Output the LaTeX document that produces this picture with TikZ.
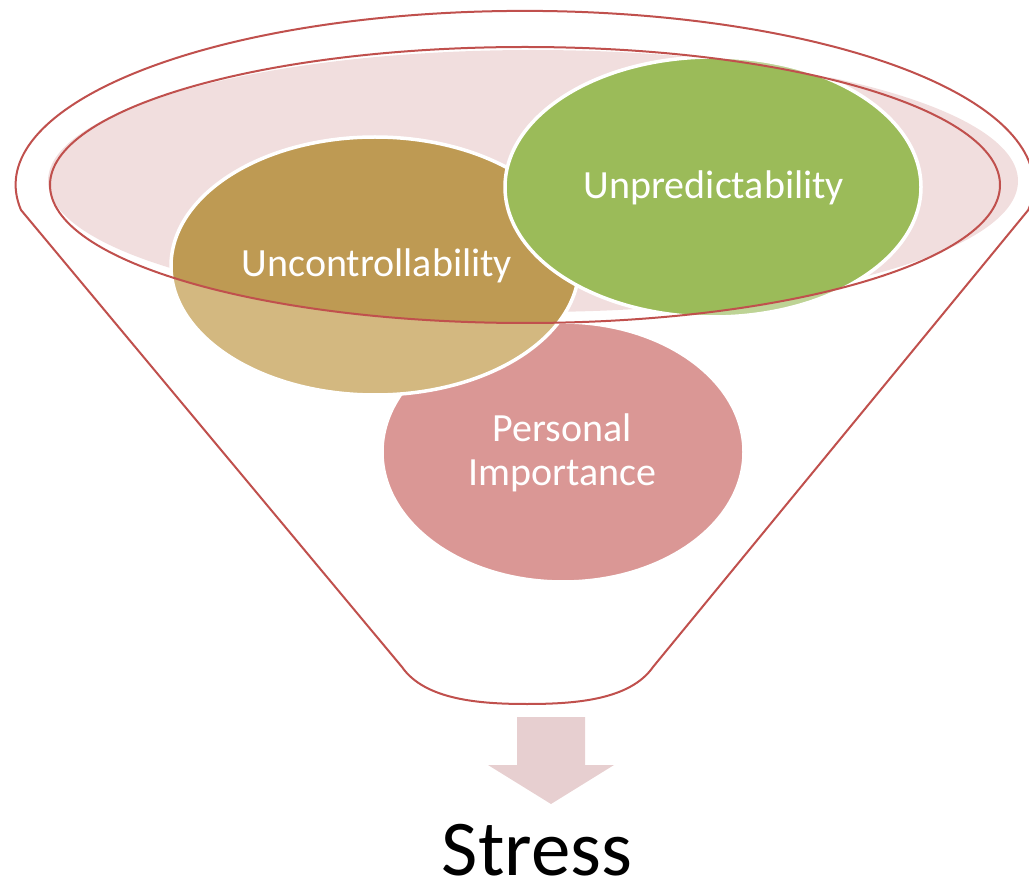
\documentclass[tikz,border=0pt]{standalone}
\usepackage{fontspec}
\setmainfont{Carlito}
\definecolor{funnelred}{HTML}{C0504D}
\definecolor{rimfill}{HTML}{F1DEDE}
\definecolor{persfill}{HTML}{DA9795}
\definecolor{brownlight}{HTML}{D3B880}
\definecolor{brownsolid}{HTML}{BE9A53}
\definecolor{greenlight}{HTML}{BDD395}
\definecolor{greensolid}{HTML}{9BBB59}
\definecolor{arrowfill}{HTML}{E7CFD0}
\begin{document}
\begin{tikzpicture}[x=1pt,y=1pt,
  label text/.style={text=white,font=\fontsize{40}{44}\selectfont,align=center,inner sep=0pt},
  rim/.style={draw=funnelred,line width=2pt},
  bubble edge/.style={draw=white,line width=3.5pt}]
\useasboundingbox (0,0) rectangle (1029,-885);

% tinted surface inside the funnel mouth
\fill[rimfill] (533,-181) ellipse [x radius=485pt, y radius=131pt];

% funnel body
\draw[rim] (21,-210) arc [start angle=188.3, end angle=-8.3, x radius=509pt, y radius=174pt]
  -- (653,-667) .. controls (630,-700) and (575,-704) .. (527,-704)
  .. controls (480,-704) and (425,-700) .. (402,-667) -- cycle;

% Personal Importance bubble (below the mouth)
\fill[persfill] (563,-452) ellipse [x radius=181pt, y radius=130pt];
\draw[bubble edge] (563,-452) ellipse [x radius=181pt, y radius=130pt];

% Uncontrollability bubble: pale below the mouth, solid inside it
\fill[brownlight] (375,-266) ellipse [x radius=204pt, y radius=129pt];
\begin{scope}
  \clip (525,-185) ellipse [x radius=475pt, y radius=138pt];
  \fill[brownsolid] (375,-266) ellipse [x radius=204pt, y radius=129pt];
\end{scope}
\draw[bubble edge] (375,-266) ellipse [x radius=204pt, y radius=129pt];

% Unpredictability bubble
\fill[greenlight] (713,-187) ellipse [x radius=208pt, y radius=130pt];
\begin{scope}
  \clip (525,-185) ellipse [x radius=475pt, y radius=138pt];
  \fill[greensolid] (713,-187) ellipse [x radius=208pt, y radius=130pt];
\end{scope}
\draw[bubble edge] (713,-187) ellipse [x radius=208pt, y radius=130pt];

% rim of the funnel mouth
\draw[rim] (525,-185) ellipse [x radius=475pt, y radius=138pt];

% labels
\node[label text] (unctrl) at (377,-266) {Uncontrollability};
\node[label text] (unpred) at (714,-188) {Unpredictability};
\node[label text] (persimp) at (562,-453) {Personal\\Importance};

% outflow arrow and result
\fill[arrowfill] (517,-717) -- (585,-717) -- (585,-765) -- (614,-765)
  -- (551,-804) -- (488,-765) -- (517,-765) -- cycle;
\node[anchor=base, inner sep=0pt, font=\fontsize{79}{90}\selectfont] (stress) at (537,-875) {Stress};
\end{tikzpicture}
\end{document}
